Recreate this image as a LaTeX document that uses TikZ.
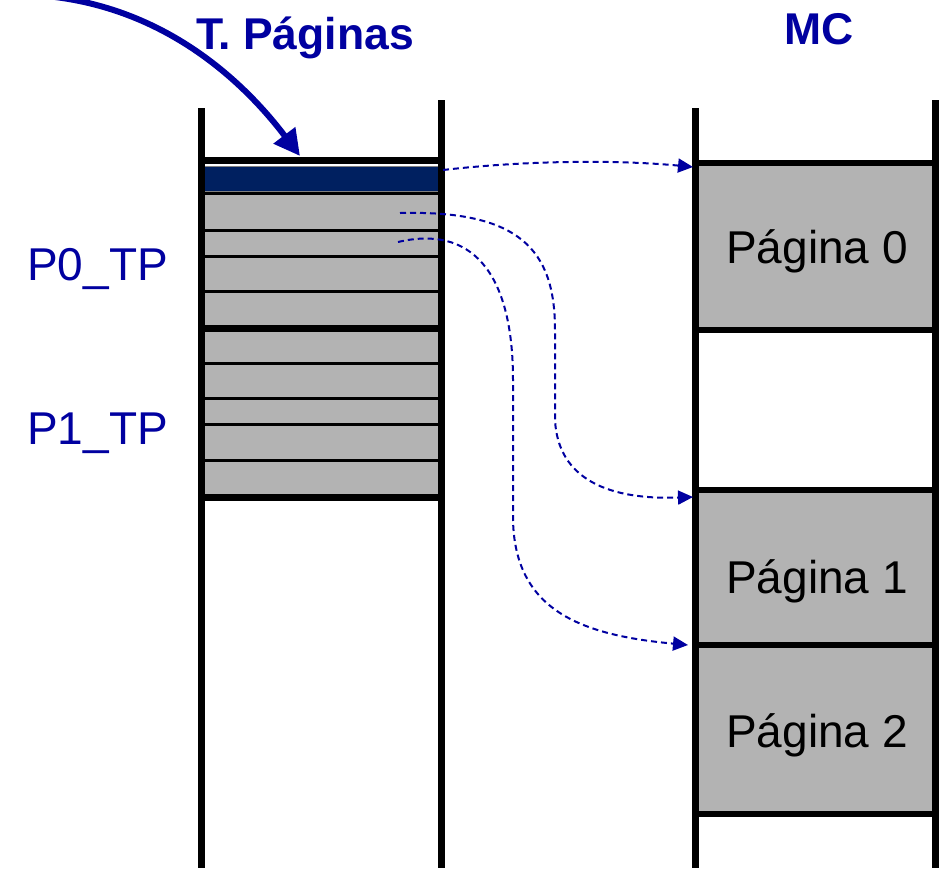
\documentclass[tikz,border=0pt]{standalone}
\usepackage{fontspec}
\setmainfont{Liberation Sans}
\usetikzlibrary{arrows.meta,positioning}
\definecolor{tblue}{RGB}{0,0,160}
\definecolor{navy}{RGB}{0,32,96}
\definecolor{cellgray}{RGB}{179,179,179}

\begin{document}
\begin{tikzpicture}[
    x=1pt, y=-1pt,
    every node/.style={font=\fontsize{46}{55}\selectfont, inner sep=0pt},
    title/.style={font=\fontsize{44.5}{53}\bfseries, text=tblue, anchor=base west},
    lbl/.style={text=tblue, anchor=base west},
    wall/.style={line width=7pt},
    cell/.style={draw, fill=cellgray, line width=3pt, minimum width=240pt},
    page/.style={draw, fill=cellgray, line width=6pt, minimum width=240pt},
    map/.style={-{Triangle[length=15pt,width=14pt]}, tblue, line width=2pt, dash pattern=on 6pt off 4pt},
    point/.style={-{Triangle[length=26pt,width=26pt]}, tblue, line width=6pt}
]
\useasboundingbox (0,0) rectangle (940,868);

% tabla de paginas
\foreach \top/\bot [count=\i] in {193/230, 230/256, 256/291, 291/328, 328/363, 363/398, 398/424, 424/460, 460/497}
  \node[cell, minimum height={\bot-\top}] (cell\i) at (321,{(\top+\bot)/2}) {};
\node[draw=gray, fill=navy, line width=1pt, minimum width=238pt, minimum height=25pt] (entry) at (321,179) {};
\draw[wall] (201,160) -- (441,160);
\draw[wall] (201,328) -- (441,328);
\draw[wall] (201,497) -- (441,497);
\draw[wall] (201,108) -- (201,868);
\draw[wall] (441,100) -- (441,868);

% memoria
\node[page, minimum height=167pt] (page0) at (815,246.5) {};
\node[page, minimum height=155pt] (page1) at (815,567.5) {};
\node[page, minimum height=169pt] (page2) at (815,729.5) {};
\draw[wall] (695,108) -- (695,868);
\draw[wall] (935,100) -- (935,868);

% textos
\node[title] (tptitle) at (196,49) {T. Páginas};
\node[title] (mctitle) at (784,44) {MC};
\node[lbl] (p0tp) at (27,280) {P0\_TP};
\node[lbl] (p1tp) at (27,444) {P1\_TP};
\node[anchor=base west] (txt0) at (726,263) {Página 0};
\node[anchor=base west] (txt1) at (726,593) {Página 1};
\node[anchor=base west] (txt2) at (726,747) {Página 2};

% flechas
\coordinate (src) at (55,-3);
\coordinate (tip) at (300,156);
\coordinate (e0) at (443,170);
\coordinate (e1) at (400,213);
\coordinate (e2) at (398,242);
\coordinate (in0) at (693,167);
\coordinate (in1) at (693,497);
\coordinate (in2) at (688,645);
\draw[point] (src) .. controls (175,12) and (250,90) .. (tip);
\draw[map] (e0) .. controls (530,160) and (620,160) .. (in0);
\draw[map] (e1) .. controls (520,210) and (555,250) .. (555,330) -- (555,420) .. controls (558,480) and (610,500) .. (in1);
\draw[map] (e2) .. controls (470,225) and (513,270) .. (513,380) -- (513,520) .. controls (515,610) and (580,635) .. (in2);
\end{tikzpicture}
\end{document}
